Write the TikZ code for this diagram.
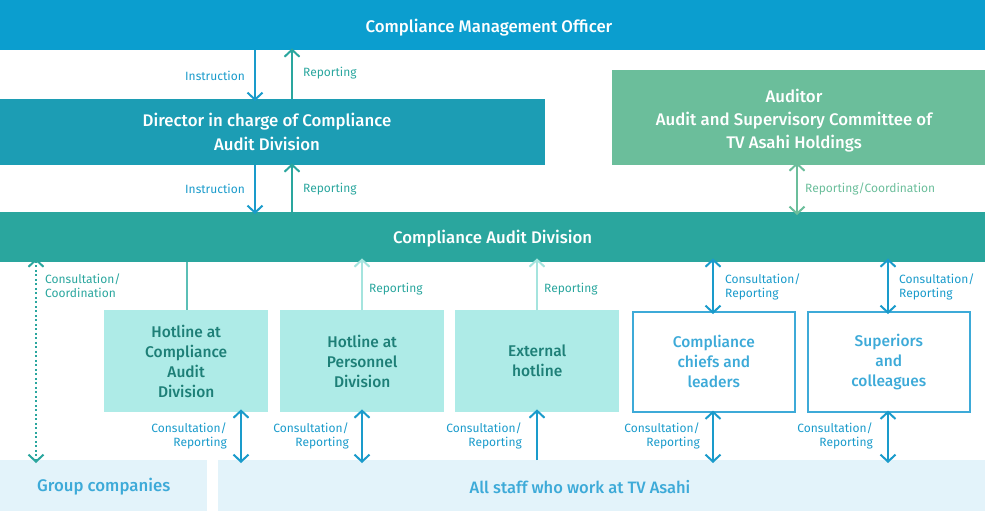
\documentclass[tikz,border=0pt]{standalone}
\usepackage{fontspec}
\setmainfont{Fira Sans}[BoldFont={Fira Sans Medium}]
\usetikzlibrary{arrows.meta}
\definecolor{cblue}{HTML}{0B9ECF}
\definecolor{cdir}{HTML}{1C9DB4}
\definecolor{caud}{HTML}{6BBE9B}
\definecolor{cdiv}{HTML}{2AA69E}
\definecolor{chot}{HTML}{AEEBE7}
\definecolor{chottext}{HTML}{1D7F77}
\definecolor{cout}{HTML}{3DAAD8}
\definecolor{cbot}{HTML}{E3F3FA}
\definecolor{carr}{HTML}{1A9BCB}
\definecolor{clight}{HTML}{A5E4DE}
\definecolor{cline}{HTML}{5BBFB6}
\tikzset{
  box/.style={draw=none, inner sep=0pt, anchor=north west, font=\bfseries\fontsize{15.5}{20}\selectfont, align=center},
  bigbox/.style={box, font=\bfseries\fontsize{16.8}{24}\selectfont},
  lbl/.style={font=\fontsize{12}{14}\selectfont, inner sep=0pt, align=left},
  tipv/.style={-{Straight Barb[length=7pt,width=15pt,line width=2pt]}},
  tipvv/.style={{Straight Barb[length=7pt,width=15pt,line width=2pt]}-{Straight Barb[length=7pt,width=15pt,line width=2pt]}},
  arr/.style={line width=2pt},
}
\begin{document}
\begin{tikzpicture}[x=1pt,y=-1pt]
\useasboundingbox (0,0) rectangle (985,511);
% boxes
\node[bigbox, fill=cblue, minimum width=985pt, minimum height=50pt] (top) at (0,0) {};
\node[text=white, font=\bfseries\fontsize{16.8}{24}\selectfont, inner sep=0pt] (topt) at (489,28) {Compliance Management Officer};
\node[bigbox, fill=cdir, minimum width=545pt, minimum height=66pt] (dir) at (0,99) {};
\node[text=white, font=\bfseries\fontsize{16.8}{24}\selectfont, inner sep=0pt, align=center] (dirt) at (267,132) {Director in charge of Compliance\\Audit Division};
\node[bigbox, fill=caud, minimum width=373pt, minimum height=95pt] (aud) at (612,70) {};
\node[text=white, font=\bfseries\fontsize{16.8}{23}\selectfont, inner sep=0pt, align=center] (audt) at (794,121) {Auditor\\Audit and Supervisory Committee of\\TV Asahi Holdings};
\node[bigbox, fill=cdiv, text=white, minimum width=985pt, minimum height=50pt, text height=12pt, text depth=0pt] (div) at (0,212) {Compliance Audit Division};
\node[box, fill=chot, text=chottext, minimum width=164pt, minimum height=102pt] (h1) at (104,310) {Hotline at\\Compliance\\Audit\\Division};
\node[box, fill=chot, text=chottext, minimum width=164pt, minimum height=102pt] (h2) at (280,310) {Hotline at\\Personnel\\Division};
\node[box, fill=chot, text=chottext, minimum width=164pt, minimum height=102pt] (h3) at (455,310) {External\\hotline};
\node[box, draw=cout, line width=1.6pt, text=cout, minimum width=162pt, minimum height=100pt] (c1) at (632,311) {Compliance\\chiefs and\\leaders};
\node[box, draw=cout, line width=1.6pt, text=cout, minimum width=162pt, minimum height=100pt] (c2) at (807,311) {Superiors\\and\\colleagues};
\node[bigbox, fill=cbot, text=cout, minimum width=207pt, minimum height=51pt, text height=12pt, text depth=0pt] (grp) at (0,460) {Group companies};
\node[bigbox, fill=cbot, minimum width=767pt, minimum height=51pt] (staff) at (218,460) {};
\node[text=cout, font=\bfseries\fontsize{16.5}{20}\selectfont, inner sep=0pt] (stafft) at (580,487) {All staff who work at TV Asahi};
% x coordinates
\coordinate (xa) at (255,0);
\coordinate (xb) at (292,0);
\coordinate (xg) at (797,0);
\coordinate (xd) at (36,0);
\coordinate (xl) at (187,0);
\coordinate (x1) at (241,0);
\coordinate (x2) at (362,0);
\coordinate (x3) at (537,0);
\coordinate (x4) at (713,0);
\coordinate (x5) at (888,0);
% top arrows
\draw[arr, tipv, carr] (top.south -| xa) -- ([yshift=-2pt]dir.north -| xa);
\draw[arr, tipv, cdiv] (dir.north -| xb) -- ([yshift=2pt]top.south -| xb);
\node[lbl, text=carr, anchor=east] (li1) at (245,76) {Instruction};
\node[lbl, text=cdiv, anchor=west] (lr1) at (303,73) {Reporting};
\draw[arr, tipv, carr] (dir.south -| xa) -- ([yshift=-2pt]div.north -| xa);
\draw[arr, tipv, cdiv] (div.north -| xb) -- ([yshift=2pt]dir.south -| xb);
\node[lbl, text=carr, anchor=east] (li2) at (245,189) {Instruction};
\node[lbl, text=cdiv, anchor=west] (lr2) at (303,189) {Reporting};
\draw[arr, tipvv, caud] ([yshift=3pt]aud.south -| xg) -- ([yshift=-3pt]div.north -| xg);
\node[lbl, text=caud, anchor=west] (lrc) at (805,189) {Reporting/Coordination};
% middle
\draw[arr, tipvv, cdiv, dash pattern=on 2pt off 2.5pt, line width=2pt] ([yshift=4pt]div.south -| xd) -- ([yshift=-3pt]grp.north -| xd);
\node[lbl, text=cdiv, anchor=north west] (lcc) at (45,274) {Consultation/\\Coordination};
\draw[line width=2pt, cline] (div.south -| xl) -- (h1.north -| xl);
\draw[arr, tipv, clight] (h2.north -| x2) -- ([yshift=4pt]div.south -| x2);
\node[lbl, text=cdiv, anchor=west] (lr3) at (369,289) {Reporting};
\draw[arr, tipv, clight] (h3.north -| x3) -- ([yshift=4pt]div.south -| x3);
\node[lbl, text=cdiv, anchor=west] (lr4) at (544,289) {Reporting};
\draw[arr, tipvv, carr] ([yshift=4pt]div.south -| x4) -- ([yshift=-3pt]c1.north -| x4);
\node[lbl, text=carr, anchor=north west] (lcr1) at (725,274) {Consultation/\\Reporting};
\draw[arr, tipvv, carr] ([yshift=4pt]div.south -| x5) -- ([yshift=-3pt]c2.north -| x5);
\node[lbl, text=carr, anchor=north west] (lcr2) at (899,274) {Consultation/\\Reporting};
% bottom arrows
\draw[arr, tipvv, carr] ([yshift=3pt]h1.south -| x1) -- ([yshift=-3pt]staff.north -| x1);
\node[lbl, text=carr, anchor=north east, align=right] (lb1) at (227,423) {Consultation/\\Reporting};
\draw[arr, tipvv, carr] ([yshift=3pt]h2.south -| x2) -- ([yshift=-3pt]staff.north -| x2);
\node[lbl, text=carr, anchor=north east, align=right] (lb2) at (349,423) {Consultation/\\Reporting};
\draw[arr, tipv, carr] (staff.north -| x3) -- ([yshift=3pt]h3.south -| x3);
\node[lbl, text=carr, anchor=north east, align=right] (lb3) at (522,423) {Consultation/\\Reporting};
\draw[arr, tipvv, carr] ([yshift=2pt]c1.south -| x4) -- ([yshift=-3pt]staff.north -| x4);
\node[lbl, text=carr, anchor=north east, align=right] (lb4) at (700,423) {Consultation/\\Reporting};
\draw[arr, tipvv, carr] ([yshift=2pt]c2.south -| x5) -- ([yshift=-3pt]staff.north -| x5);
\node[lbl, text=carr, anchor=north east, align=right] (lb5) at (873,423) {Consultation/\\Reporting};
\end{tikzpicture}
\end{document}
